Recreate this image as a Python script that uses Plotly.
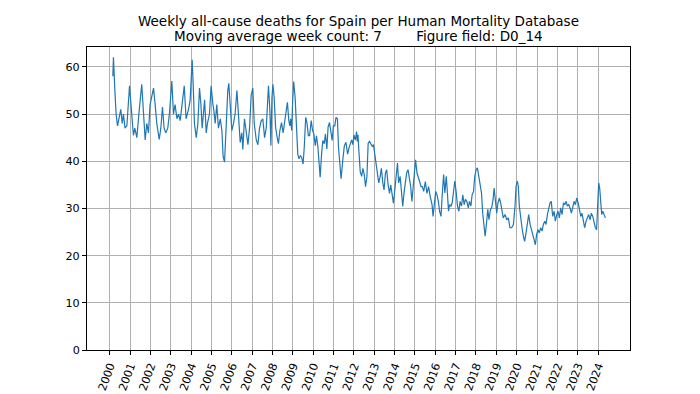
import plotly.graph_objects as go

week_year = [
    2000.15, 2000.18, 2000.25, 2000.31, 2000.38, 2000.46, 2000.54, 2000.61, 2000.67, 2000.75,
    2000.84, 2000.97, 2001.03, 2001.10, 2001.16, 2001.23, 2001.33, 2001.43, 2001.49, 2001.57,
    2001.66, 2001.74, 2001.82, 2001.90, 2001.98, 2002.07, 2002.15, 2002.23, 2002.31, 2002.43,
    2002.51, 2002.59, 2002.67, 2002.75, 2002.85, 2002.93, 2003.05, 2003.13, 2003.21, 2003.30,
    2003.38, 2003.46, 2003.54, 2003.66, 2003.75, 2003.87, 2003.95,
    2004.05, 2004.11, 2004.16, 2004.25, 2004.33, 2004.41, 2004.48, 2004.54, 2004.61, 2004.66,
    2004.74, 2004.80, 2004.90, 2004.98, 2005.07, 2005.11, 2005.18, 2005.26, 2005.34, 2005.43,
    2005.51, 2005.57, 2005.64, 2005.72, 2005.80, 2005.85, 2005.92, 2006.00, 2006.08, 2006.16,
    2006.25, 2006.33, 2006.41, 2006.49, 2006.54, 2006.62, 2006.70, 2006.79, 2006.87, 2006.95,
    2007.03, 2007.10, 2007.20, 2007.28, 2007.36, 2007.44, 2007.52, 2007.61, 2007.69, 2007.80,
    2007.87, 2007.92, 2007.97, 2008.02, 2008.08, 2008.15, 2008.23, 2008.29, 2008.36, 2008.44,
    2008.52, 2008.60, 2008.68, 2008.73, 2008.80, 2008.85, 2008.89, 2008.94, 2008.99, 2009.04,
    2009.11, 2009.17, 2009.24, 2009.30, 2009.37, 2009.43, 2009.50, 2009.56, 2009.63, 2009.69,
    2009.76, 2009.82, 2009.90, 2009.97, 2010.03, 2010.10, 2010.16, 2010.23, 2010.29, 2010.34,
    2010.41, 2010.47, 2010.54, 2010.60, 2010.67, 2010.73, 2010.80, 2010.86, 2010.93, 2010.99,
    2011.06, 2011.12, 2011.19, 2011.24, 2011.30, 2011.37, 2011.45, 2011.53, 2011.61, 2011.69,
    2011.77,
    2011.89, 2011.95, 2012.00, 2012.07, 2012.13, 2012.16, 2012.20, 2012.24, 2012.31, 2012.38,
    2012.44, 2012.51, 2012.57, 2012.64, 2012.70, 2012.77, 2012.83, 2012.90, 2012.96, 2013.03,
    2013.09, 2013.16, 2013.22, 2013.29, 2013.35, 2013.42, 2013.48, 2013.55, 2013.61, 2013.68,
    2013.75, 2013.81, 2013.88, 2013.94, 2014.01, 2014.07, 2014.14, 2014.20, 2014.27, 2014.33,
    2014.40, 2014.46, 2014.53, 2014.59, 2014.66, 2014.72, 2014.79, 2014.85, 2014.92, 2014.99,
    2015.03, 2015.10, 2015.16, 2015.23, 2015.30, 2015.36, 2015.43, 2015.51, 2015.59, 2015.67,
    2015.75,
    2015.84, 2015.89, 2015.95, 2016.02, 2016.08, 2016.15, 2016.21, 2016.28, 2016.34, 2016.41,
    2016.47, 2016.54, 2016.60, 2016.65, 2016.70, 2016.77, 2016.83, 2016.90, 2016.96, 2017.03,
    2017.09, 2017.16, 2017.22, 2017.29, 2017.35, 2017.42, 2017.48, 2017.55, 2017.62, 2017.68,
    2017.75, 2017.81, 2017.88, 2017.94, 2018.01, 2018.07, 2018.14, 2018.20, 2018.27, 2018.33,
    2018.40, 2018.45, 2018.51, 2018.58, 2018.64, 2018.71, 2018.77, 2018.84, 2018.89, 2018.95,
    2019.02, 2019.08, 2019.15, 2019.21, 2019.28, 2019.34, 2019.43, 2019.51, 2019.59, 2019.67,
    2019.75, 2019.84, 2019.92, 2019.97, 2020.03, 2020.08, 2020.13, 2020.20, 2020.26, 2020.33,
    2020.39, 2020.46, 2020.52, 2020.59, 2020.66, 2020.72, 2020.79, 2020.85, 2020.92, 2020.98,
    2021.05, 2021.11, 2021.18, 2021.25, 2021.31, 2021.38, 2021.44, 2021.51, 2021.57, 2021.64,
    2021.70, 2021.77, 2021.84, 2021.90, 2021.97, 2022.03, 2022.10, 2022.16, 2022.23, 2022.30,
    2022.36, 2022.43, 2022.49, 2022.56, 2022.62, 2022.69, 2022.75, 2022.82, 2022.89, 2022.95,
    2023.02, 2023.08, 2023.15, 2023.21, 2023.28, 2023.34, 2023.41, 2023.48, 2023.54, 2023.61,
    2023.67, 2023.74, 2023.80, 2023.87, 2023.93, 2023.98, 2024.03, 2024.08, 2024.13, 2024.18,
    2024.23, 2024.30, 2024.36,
]

# 7-week moving average of weekly deaths (D0_14)
deaths_ma = [
    58.0, 62.0, 55.0, 50.0, 47.5, 49.0, 51.0, 48.0, 50.0, 47.0,
    47.5, 56.0, 52.0, 48.0, 45.5, 47.0, 45.0, 50.0, 53.0, 56.3,
    50.0, 44.5, 48.0, 46.0, 52.0, 54.0, 55.5, 52.0, 48.0, 44.6,
    47.0, 51.5, 47.0, 46.0, 47.0, 50.0, 57.0, 50.0, 52.0, 49.0,
    50.0, 48.6, 52.0, 56.0, 49.0, 51.0, 53.0,
    61.5, 55.0, 48.0, 45.0, 48.0, 55.5, 52.0, 47.0, 50.0, 53.0,
    46.0, 48.0, 50.0, 56.0, 52.0, 51.0, 48.0, 52.0, 47.0, 49.0,
    46.5, 41.0, 39.8, 48.0, 55.0, 56.5, 52.0, 46.5, 48.0, 50.0,
    55.0, 48.0, 44.0, 46.0, 42.5, 49.0, 46.0, 43.5, 47.0, 54.0,
    55.5, 48.0, 44.5, 43.5, 47.0, 48.5, 49.0, 45.0, 47.0, 56.0,
    50.7, 43.3, 53.5, 56.3, 53.5, 47.2, 45.0, 43.7, 46.5, 48.2,
    46.0, 49.0, 52.0, 52.5, 48.6, 47.5, 49.0, 46.5, 52.8, 56.9,
    53.5, 47.2, 41.5, 40.5, 41.2, 40.8, 39.4, 43.0, 49.3, 48.2,
    45.4, 45.4, 48.6, 46.5, 45.8, 43.3, 45.4, 43.0, 40.1, 36.6,
    41.5, 44.4, 43.7, 45.8, 42.6, 47.2, 48.2, 46.1, 44.4, 47.5,
    47.5, 49.3, 49.0, 43.0, 38.7, 36.3, 40.1, 43.3, 44.0, 41.5,
    43.0,
    44.5, 43.5, 45.6, 44.5, 46.3, 44.2, 45.6, 42.4, 37.8, 36.8,
    38.5, 37.1, 34.6, 36.8, 43.8, 44.2, 43.5, 43.1, 43.5, 41.3,
    40.3, 38.2, 35.4, 36.8, 38.5, 35.4, 33.9, 37.5, 38.2, 35.0,
    33.2, 35.0, 32.5, 31.1, 33.9, 36.8, 39.6, 35.4, 36.8, 33.9,
    30.4, 33.2, 35.4, 37.5, 38.2, 36.8, 34.6, 31.5, 35.4, 39.6,
    40.3, 37.5, 36.4, 35.7, 34.6, 34.6, 33.6, 35.7, 33.2, 34.6,
    32.5,
    30.8, 28.3, 30.5, 33.6, 32.9, 31.5, 29.4, 28.3, 32.9, 37.2,
    33.3, 36.8, 32.9, 29.4, 30.8, 30.5, 31.2, 33.3, 35.8, 33.3,
    30.5, 29.4, 31.5, 30.5, 32.9, 30.8, 31.9, 31.5, 30.1, 31.5,
    30.5, 32.9, 33.6, 36.8, 38.2, 38.6, 36.5, 35.8, 33.3, 29.0,
    25.5, 24.1, 26.6, 29.8, 27.6, 29.8, 30.1, 31.9, 34.3, 31.5,
    29.0, 31.2, 32.2, 31.2, 29.4, 28.0, 28.7, 27.6, 28.0, 25.9,
    25.9, 26.6, 30.5, 34.7, 35.8, 34.7, 30.5, 27.6, 25.9, 24.1,
    23.0, 24.8, 26.9, 28.7, 26.6, 25.5, 24.8, 23.4, 22.3, 24.5,
    25.5, 24.8, 25.9, 25.2, 26.6, 27.3, 26.6, 28.7, 30.1, 31.2,
    31.5, 28.3, 29.4, 27.3, 28.7, 29.4, 28.0, 30.1, 28.7, 31.2,
    30.8, 31.5, 30.5, 30.8, 30.1, 29.0, 30.1, 31.5, 30.8, 32.2,
    31.2, 29.4, 28.3, 29.0, 26.9, 25.9, 27.3, 28.0, 28.7, 27.6,
    29.0, 28.3, 26.9, 25.9, 25.5, 29.8, 35.4, 34.3, 31.5, 28.7,
    29.4, 28.7, 28.0,
]

year_ticks = list(range(2000, 2025))
year_labels = [str(y) for y in year_ticks]
y_ticks = [0, 10, 20, 30, 40, 50, 60]

title_line1 = "Weekly all-cause deaths for Spain per Human Mortality Database"
title_line2 = "Moving average week count: 7" + "\u00a0" * 8 + "Figure field: D0_14"

FONT = "DejaVu Sans"
W, H = 700, 394
ML, MR, MT, MB = 87, 70, 47, 44
PLOT_H = H - MT - MB


def paper_y(px):
    return (H - MB - px) / PLOT_H


fig = go.Figure()
fig.add_trace(go.Scatter(
    x=week_year, y=deaths_ma, mode="lines",
    line=dict(color="#1f77b4", width=1.2),
    showlegend=False,
))

for txt, py in ((title_line1, 20.5), (title_line2, 35.5)):
    fig.add_annotation(
        text=txt, xref="paper", yref="paper", x=0.5, y=paper_y(py),
        xanchor="center", yanchor="middle", showarrow=False,
        font=dict(family=FONT, size=13.5, color="black"),
    )

fig.update_layout(
    width=W, height=H,
    margin=dict(l=ML, r=MR, t=MT, b=MB),
    paper_bgcolor="white", plot_bgcolor="white",
    font=dict(family=FONT, color="black", size=11),
    xaxis=dict(
        range=[1998.88, 2025.57],
        tickmode="array", tickvals=year_ticks, ticktext=year_labels,
        tickangle=-70, automargin=False,
        showgrid=True, gridcolor="#b0b0b0", gridwidth=0.8,
        showline=True, linecolor="black", linewidth=1, mirror=True,
        ticks="outside", ticklen=4, tickcolor="black", tickwidth=1,
        zeroline=False,
        tickfont=dict(family=FONT, size=11.2),
    ),
    yaxis=dict(
        range=[0, 64.2],
        tickmode="array", tickvals=y_ticks, automargin=False,
        showgrid=True, gridcolor="#b0b0b0", gridwidth=0.8,
        showline=True, linecolor="black", linewidth=1, mirror=True,
        ticks="outside", ticklen=4, tickcolor="black", tickwidth=1,
        zeroline=False,
        tickfont=dict(family=FONT, size=11.2),
    ),
)

fig.write_html(
    "out.html",
    config={"displayModeBar": False},
    post_script="document.body.style.margin='0';document.body.style.overflow='hidden';",
)
